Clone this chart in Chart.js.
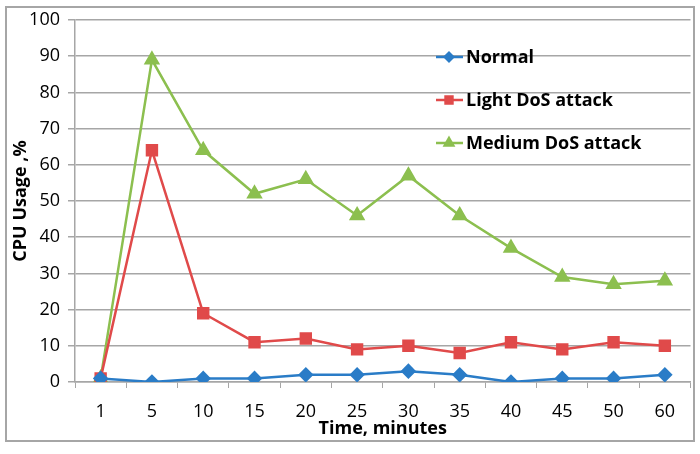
<!DOCTYPE html>
<html>
<head>
<meta charset="utf-8">
<script src="https://cdn.jsdelivr.net/npm/chart.js@4.4.1/dist/chart.umd.min.js"></script>
<style>
  html, body { margin: 0; padding: 0; background: #fff; }
  #wrap { width: 700px; height: 454px; position: relative; }
</style>
</head>
<body>
<div id="wrap"><canvas id="chart" width="700" height="454"></canvas></div>
<script>
// data
const minutes = ["1", "5", "10", "15", "20", "25", "30", "35", "40", "45", "50", "60"];
const normal = [1, 0, 1, 1, 2, 2, 3, 2, 0, 1, 1, 2];
const lightDos = [1, 64, 19, 11, 12, 9, 10, 8, 11, 9, 11, 10];
const mediumDos = [1, 89, 64, 52, 56, 46, 57, 46, 37, 29, 27, 28];
const yTicks = [0, 10, 20, 30, 40, 50, 60, 70, 80, 90, 100];

const BLUE = "#2a7cc7";
const RED = "#e04a4a";
const GREEN = "#8cbf4f";
const FONT = "'Open Sans', 'DejaVu Sans', sans-serif";

// frame round the whole chart + legend drawn inside the plot
const framePlugin = {
    id: "frame",
    beforeDraw(chart) {
        const ctx = chart.ctx;
        ctx.save();
        ctx.fillStyle = "#fff";
        ctx.fillRect(0, 0, chart.width, chart.height);
        ctx.strokeStyle = "#a6a6a6";
        ctx.lineWidth = 2;
        ctx.strokeRect(6, 7, 688, 434);
        ctx.restore();
    },
    afterDraw(chart) {
        const ctx = chart.ctx;
        const rows = [57, 100, 143];
        ctx.save();
        chart.data.datasets.forEach((ds, i) => {
            const y = rows[i];
            ctx.strokeStyle = ds.borderColor;
            ctx.lineWidth = 2.5;
            ctx.beginPath();
            ctx.moveTo(436, y);
            ctx.lineTo(463, y);
            ctx.stroke();
            ctx.fillStyle = ds.backgroundColor;
            ctx.strokeStyle = ds.borderColor;
            Chart.helpers.drawPoint(ctx, {
                pointStyle: ds.pointStyle,
                radius: ds.pointRadius * 0.7,
                borderWidth: 1
            }, 449, y);
            ctx.fillStyle = "#000";
            ctx.font = "bold 18px " + FONT;
            ctx.textBaseline = "middle";
            ctx.fillText(ds.label, 466, y + 1);
        });
        ctx.restore();
    }
};

const ctx = document.getElementById("chart").getContext("2d");
new Chart(ctx, {
    type: "line",
    data: {
        labels: minutes,
        datasets: [
            {
                label: "Normal",
                data: normal,
                borderColor: BLUE,
                backgroundColor: BLUE,
                borderWidth: 2.5,
                pointStyle: "rectRot",
                pointRadius: 6,
                tension: 0
            },
            {
                label: "Light DoS attack",
                data: lightDos,
                borderColor: RED,
                backgroundColor: RED,
                borderWidth: 2.5,
                pointStyle: "rect",
                pointRadius: 7,
                tension: 0
            },
            {
                label: "Medium DoS attack",
                data: mediumDos,
                borderColor: GREEN,
                backgroundColor: GREEN,
                borderWidth: 2.5,
                pointStyle: "triangle",
                pointRadius: 7,
                tension: 0
            }
        ]
    },
    options: {
        responsive: false,
        animation: false,
        layout: { padding: { left: 10, right: 8, top: 20, bottom: 14 } },
        plugins: {
            legend: { display: false },
            tooltip: { enabled: false }
        },
        scales: {
            x: {
                offset: true,
                grid: {
                    offset: true,
                    drawOnChartArea: false,
                    tickLength: 6,
                    color: "#a6a6a6"
                },
                border: { color: "#a6a6a6", width: 1.5 },
                ticks: {
                    color: "#000",
                    font: { family: FONT, size: 18 },
                    padding: 13
                },
                title: {
                    display: true,
                    text: "Time, minutes",
                    color: "#000",
                    font: { family: FONT, size: 18, weight: "bold" },
                    padding: { top: -12, bottom: 0 }
                },
                afterFit: (s) => { s.height = 58; }
            },
            y: {
                min: 0,
                max: 100,
                afterBuildTicks: (s) => { s.ticks = yTicks.map((v) => ({ value: v })); },
                grid: {
                    color: "#a6a6a6",
                    lineWidth: 1.5,
                    tickLength: 7
                },
                border: { color: "#a6a6a6", width: 1.5 },
                ticks: {
                    color: "#000",
                    font: { family: FONT, size: 18 },
                    padding: 8
                },
                title: {
                    display: true,
                    text: "CPU Usage ,%",
                    color: "#000",
                    font: { family: FONT, size: 18, weight: "bold" },
                    padding: 0
                },
                afterFit: (s) => { s.width = 65; }
            }
        }
    },
    plugins: [framePlugin]
});
</script>
</body>
</html>
